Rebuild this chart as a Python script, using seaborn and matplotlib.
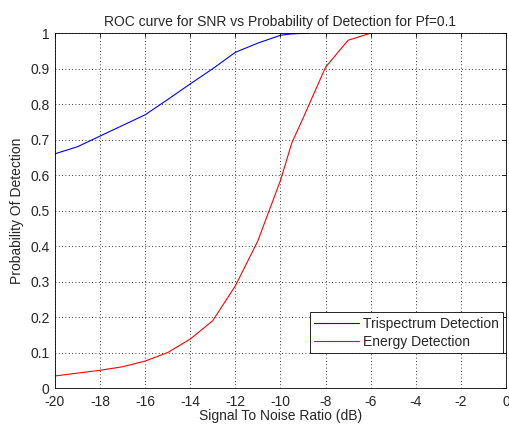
import pandas as pd
import numpy as np
import matplotlib.pyplot as plt
import seaborn as sns

# Values
snr_tri = [-20, -19, -18, -17, -16, -15, -14, -13, -12, -11, -10, -9.5, -8.75]
pd_tri = [0.66, 0.68, 0.71, 0.74, 0.77, 0.813, 0.857, 0.90, 0.946, 0.972, 0.994, 0.998, 1.0]

snr_energy = [-20, -19, -18, -17, -16, -15, -14, -13, -12, -11, -10, -9.5, -9, -8, -7, -6]
pd_energy = [0.034, 0.042, 0.05, 0.06, 0.076, 0.10, 0.138, 0.19, 0.288, 0.415, 0.585, 0.69, 0.76, 0.904, 0.98, 1.0]

labels = ['Trispectrum Detection', 'Energy Detection']

df = pd.concat([
    pd.DataFrame({'snr': snr_tri, 'pd': pd_tri, 'method': labels[0]}),
    pd.DataFrame({'snr': snr_energy, 'pd': pd_energy, 'method': labels[1]}),
])

sns.set_style('white')
plt.rcParams['font.family'] = ['Liberation Sans', 'DejaVu Sans']
plt.rcParams['axes.unicode_minus'] = False

fig = plt.figure(figsize=(5.09, 4.25), dpi=100)
ax = fig.add_axes([0.108, 0.087, 0.886, 0.835])
sns.lineplot(data=df, x='snr', y='pd', hue='method', palette=['#0000ff', '#ff0000'],
             linewidth=0.8, ax=ax, sort=False, estimator=None)

ax.set_xlim(-20, 0)
ax.set_ylim(0, 1)
ax.set_xticks(np.arange(-20, 1, 2))
ax.set_yticks(np.arange(0, 1.01, 0.1))
ax.set_yticklabels(['0', '0.1', '0.2', '0.3', '0.4', '0.5', '0.6', '0.7', '0.8', '0.9', '1'])
ax.grid(True, color='black', linestyle=(0, (1, 3)), linewidth=0.6)
ax.tick_params(direction='in', length=3, top=True, right=True, labelsize=10, width=0.6,
               color='black')
ax.tick_params(axis='x', pad=5)
ax.tick_params(axis='y', pad=4)
for s in ax.spines.values():
    s.set_color('black')
    s.set_linewidth(0.6)

ax.set_title('ROC curve for SNR vs Probability of Detection for Pf=0.1', fontsize=10, pad=5)
ax.set_xlabel('Signal To Noise Ratio (dB)', fontsize=10, labelpad=0)
ax.set_ylabel('Probability Of Detection', fontsize=10, labelpad=4)

leg = ax.legend(loc='lower right', bbox_to_anchor=(0.993, 0.099), fontsize=10,
                fancybox=False, framealpha=1, edgecolor='black', borderaxespad=0,
                handlelength=3.2, labelspacing=0.3, borderpad=0.3, handletextpad=0.3)
leg.get_frame().set_linewidth(0.6)

plt.savefig('out.png', dpi=100)
plt.close()
